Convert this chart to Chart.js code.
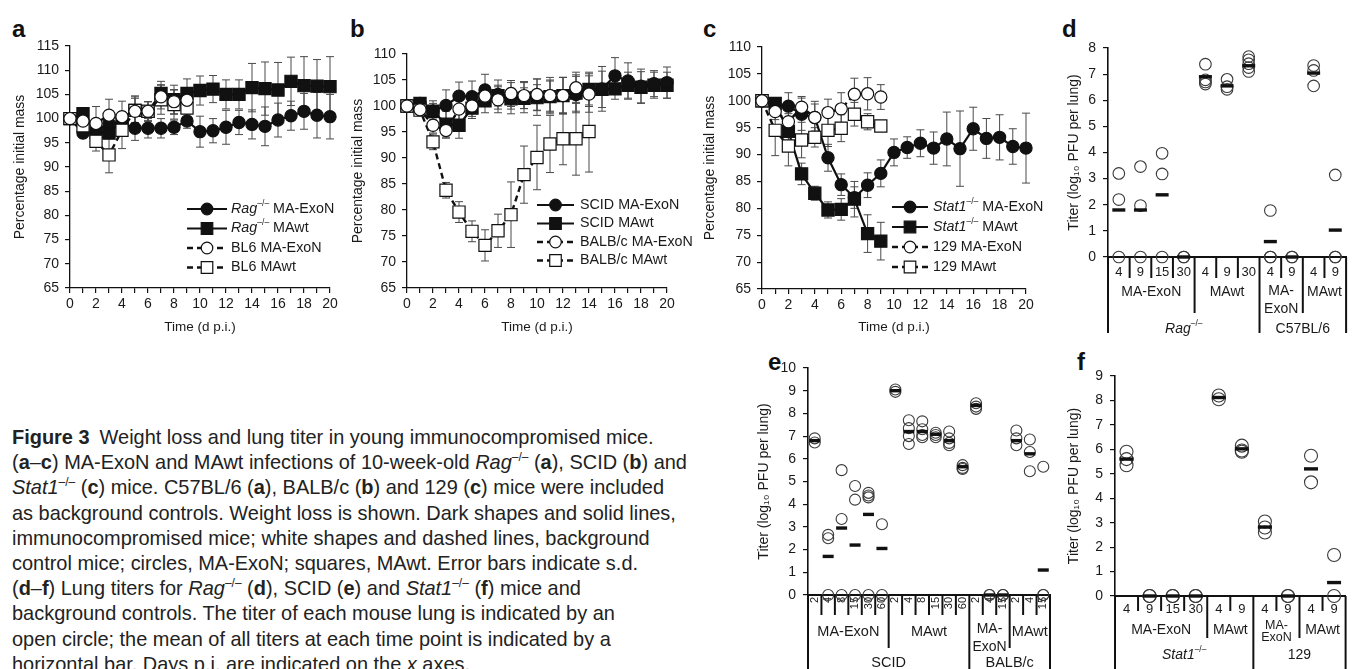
<!DOCTYPE html>
<html>
<head>
<meta charset="utf-8">
<script src="https://cdn.jsdelivr.net/npm/chart.js@4.4.1/dist/chart.umd.min.js"></script>
<style>
  body { margin: 0; width: 1356px; height: 669px; overflow: hidden; position: relative; background: #fff; }
  canvas { position: absolute; }
  .letter { position: absolute; font: bold 24px 'Liberation Sans', Arial, sans-serif; line-height: 24px; color: #111; }
  #cap { position: absolute; left: 12px; top: 424px; font: 21px 'Liberation Sans', Arial, sans-serif; line-height: 25.2px;
         color: #222; white-space: nowrap; transform: scaleX(0.95); transform-origin: 0 0; }
  #cap sup { font-size: 0.6em; line-height: 0; vertical-align: 0.6em; }
</style>
</head>
<body>
<div class="letter" style="left:12px;top:17px">a</div>
<div class="letter" style="left:350px;top:17px">b</div>
<div class="letter" style="left:703px;top:17px">c</div>
<div class="letter" style="left:1062px;top:17px">d</div>
<div class="letter" style="left:768px;top:350px">e</div>
<div class="letter" style="left:1077px;top:350px">f</div>

<canvas id="ca" width="345" height="340" style="left:0;top:0"></canvas>
<canvas id="cb" width="362" height="340" style="left:345px;top:0"></canvas>
<canvas id="cc" width="368" height="340" style="left:690px;top:0"></canvas>
<canvas id="cd" width="306" height="345" style="left:1050px;top:0"></canvas>
<canvas id="ce" width="310" height="324" style="left:750px;top:345px"></canvas>
<canvas id="cf" width="296" height="324" style="left:1060px;top:345px"></canvas>

<div id="cap">
<div><b>Figure 3</b>&ensp;Weight loss and lung titer in young immunocompromised mice.</div>
<div>(<b>a</b>–<b>c</b>) MA-ExoN and MAwt infections of 10-week-old <i>Rag</i><sup>–/–</sup> (<b>a</b>), SCID (<b>b</b>) and</div>
<div><i>Stat1</i><sup>–/–</sup> (<b>c</b>) mice. C57BL/6 (<b>a</b>), BALB/c (<b>b</b>) and 129 (<b>c</b>) mice were included</div>
<div>as background controls. Weight loss is shown. Dark shapes and solid lines,</div>
<div>immunocompromised mice; white shapes and dashed lines, background</div>
<div>control mice; circles, MA-ExoN; squares, MAwt. Error bars indicate s.d.</div>
<div>(<b>d</b>–<b>f</b>) Lung titers for <i>Rag</i><sup>–/–</sup> (<b>d</b>), SCID (<b>e</b>) and <i>Stat1</i><sup>–/–</sup> (<b>f</b>) mice and</div>
<div>background controls. The titer of each mouse lung is indicated by an</div>
<div>open circle; the mean of all titers at each time point is indicated by a</div>
<div>horizontal bar. Days p.i. are indicated on the <i>x</i> axes.</div>
</div>

<script>
// ---- weight curves (percentage initial mass), day 0..20 ----
const days = [0,1,2,3,4,5,6,7,8,9,10,11,12,13,14,15,16,17,18,19,20];

// a: Rag-/- and BL6
const aRagExoN   = [100,97.0,97.5,99.0,99.0,98.0,98.0,98.0,98.2,99.5,97.3,97.5,98.2,99.2,98.8,98.4,99.7,100.6,101.5,100.7,100.4];
const aRagExoNSd = [0,1.0,1.5,2.0,2.0,2.5,2.0,2.0,1.5,1.5,3.2,2.5,3.5,2.5,3.0,4.0,3.5,3.0,3.7,4.7,4.6];
const aRagWt     = [100,101.0,97.2,97.0,99.5,101.7,101.5,105.2,103.9,105.2,105.8,106.1,105.0,105.0,106.4,106.2,105.9,107.7,106.8,106.7,106.6];
const aRagWtSd   = [0,1.0,1.0,1.0,1.5,2.5,2.0,2.5,3.0,3.0,3.0,2.8,3.0,3.0,5.0,5.5,5.7,5.0,6.0,5.5,6.2];
const aBl6ExoN   = [100,99.5,99.0,100.7,100.4,101.5,101.5,104.5,103.5,103.8];
const aBl6ExoNSd = [0,1.0,3.5,3.3,3.2,3.0,2.0,2.5,2.5,2.5];
const aBl6Wt     = [100,98.5,95.3,92.5,97.6,101.7,101.5,103.9,102.9,102.2];
const aBl6WtSd   = [0,1.0,2.0,3.7,3.8,3.0,2.0,3.0,3.0,2.0];

// b: SCID and BALB/c
const bScidExoN   = [100,100.5,99.0,100.1,101.9,101.8,103.1,102.2,101.5,101.7,101.7,102.0,102.0,102.2,103.2,103.3,105.8,104.8,103.8,104.3,104.5];
const bScidExoNSd = [0,1,2,3,2.7,3,3,2.8,3,3,3.5,3.5,3.5,3.5,3.3,4.3,3.5,3.5,3.3,2.5,3];
const bScidWt     = [100,100.5,99.0,96.5,96.3,99.6,101.0,102.0,101.4,101.5,101.6,101.8,102.0,102.5,103.2,103.2,103.3,104.0,103.6,104.0,104.0];
const bScidWtSd   = [0,1,1.5,2.5,2.5,2,2.3,2,2,2,2.5,3,3.5,3.5,3,3.5,2,2.5,3,2.5,2.5];
const bBalbExoN   = [100,99.3,96.3,95.3,99.4,100.0,101.9,101.2,102.4,102.0,102.2,102.0,102.0,103.5,102.3];
const bBalbExoNSd = [0,1,1.5,1.5,2,2,2,2.5,2.5,2.5,3,3,3.5,3,3.5];
const bBalbWt     = [100,99.2,93.1,83.8,79.6,75.9,73.2,76.0,79.1,86.8,90.1,92.7,93.7,93.7,95.1];
const bBalbWtSd   = [0,1,1.5,1.5,2,2,3,3.2,6.3,5.5,6.2,5.5,5,7,7.8];

// c: Stat1-/- and 129
const cStatExoN   = [100,99.1,99.0,97.5,96.9,89.4,84.4,82.0,84.3,86.5,90.4,91.3,92.1,91.2,92.9,91.1,94.8,93.0,93.2,91.5,91.2];
const cStatExoNSd = [0,1,2.5,3,3,2.5,2,2,2.3,2.5,2.5,2,2.5,3,5,7,4,3.7,4.2,3.3,6.5];
const cStatWt     = [100,99.5,94.3,86.4,82.8,79.7,79.8,81.7,75.3,73.9];
const cStatWtSd   = [0,1,2,2,1.3,1.5,2,3.3,3.5,3.5];
const c129ExoN    = [100,98.0,96.1,98.8,96.9,97.8,98.5,101.2,101.3,100.7];
const c129ExoNSd  = [0,1.5,1.5,2,2.5,2.5,3,3,3,2.3];
const c129Wt      = [100,94.5,91.6,92.7,93.2,94.5,94.9,97.5,96.1,95.3];
const c129WtSd    = [0,4.7,3.7,3.3,1.8,3,2.5,2.2,1.5,1];

// ---- lung titers (log10 PFU per lung) ----
const dDays   = ['4','9','15','30','4','9','30','4','9','4','9'];
const dTiters = [[3.2,2.2,0],[3.46,1.97,0],[3.97,3.18,0],[0,0],[7.38,6.78,6.7,6.62],[6.8,6.52,6.42],
                 [7.67,7.55,7.4,7.25,7.1],[1.78,0,0],[0,0],[7.33,7.14,6.55],[3.14,0,0]];
const dMeans  = [1.8,1.8,2.38,0,6.9,6.55,7.32,0.59,0,7.04,1.03];
const dVirus  = ['MA-ExoN','MAwt','MA-\nExoN','MAwt'];
const dVirusN = [4,3,2,2];
const dStrain = [['Rag','–/–'],['C57BL/6']];
const dStrainN = [7,4];

const eDays   = ['2','4','8','15','30','60','2','4','8','15','30','60','2','4','15','2','4','15'];
const eTiters = [[6.9,6.72],[2.65,2.5,0],[5.5,3.35,0],[4.8,4.2,0],[4.5,4.38,4.3,0],[3.12,0],
                 [9.05,8.95],[7.7,7.35,7.0,6.65],[7.65,7.3,7.05,6.95],[7.15,7.05,6.95],[7.2,6.9,6.7,6.6],[5.72,5.6,5.55],
                 [8.45,8.3,8.2],[0,0],[0,0],[7.25,6.9,6.6],[6.85,6.3,5.45],[5.65,0,0]];
const eMeans  = [6.8,1.7,2.95,2.2,3.55,2.05,9.0,7.2,7.2,7.08,6.8,5.65,8.35,0,0,6.8,6.22,1.1];
const eVirus  = ['MA-ExoN','MAwt','MA-\nExoN','MAwt'];
const eVirusN = [6,6,3,3];
const eStrain = [['SCID'],['BALB/c']];
const eStrainN = [12,6];

const fDays   = ['4','9','15','30','4','9','4','9','4','9'];
const fTiters = [[5.9,5.6,5.35],[0,0],[0,0],[0,0],[8.2,8.05],[6.15,5.95,5.9],[3.05,2.8,2.6],[0,0],[5.74,4.65],[1.68,0]];
const fMeans  = [5.6,0,0,0,8.12,6.02,2.82,0,5.2,0.55];
const fVirus  = ['MA-ExoN','MAwt','MA-\nExoN','MAwt'];
const fVirusN = [4,2,2,2];
const fStrain = [['Stat1','–/–'],['129']];
const fStrainN = [6,4];

// ---------------------------------------------------------------
const FAMILY = "'Liberation Sans', Arial, Helvetica, sans-serif";
const INK = '#1a1a1a';
Chart.defaults.font.family = FAMILY;
Chart.defaults.font.size = 14;
Chart.defaults.color = INK;
Chart.defaults.animation = false;
Chart.defaults.events = [];
Chart.defaults.plugins.legend.display = false;
Chart.defaults.plugins.tooltip.enabled = false;

// gene name in italics with a superscript, everything else plain
function labelParts(spec, rest) {
  const parts = spec.length > 1 ? [{t: spec[0], it: true}, {t: spec[1], sup: true}] : [{t: spec[0]}];
  if (rest) parts.push({t: rest});
  return parts;
}

function richWidth(ctx, parts, size) {
  let w = 0;
  parts.forEach(p => {
    ctx.font = `${p.it ? 'italic ' : ''}${p.sup ? size * 0.6 : size}px ${FAMILY}`;
    w += ctx.measureText(p.t).width;
  });
  return w;
}

function drawRich(ctx, parts, x, y, size) {
  ctx.textAlign = 'left';
  parts.forEach(p => {
    ctx.font = `${p.it ? 'italic ' : ''}${p.sup ? size * 0.6 : size}px ${FAMILY}`;
    ctx.fillText(p.t, x, p.sup ? y - size * 0.38 : y);
    x += ctx.measureText(p.t).width;
  });
}

const errorBars = {
  id: 'errorBars',
  beforeDatasetsDraw(chart) {
    const {ctx, scales: {x, y}} = chart;
    ctx.save();
    ctx.strokeStyle = '#4a4a4a';
    ctx.lineWidth = 1;
    chart.data.datasets.forEach(ds => {
      if (!ds.sd) return;
      ds.data.forEach((p, i) => {
        const s = ds.sd[i];
        if (!s) return;
        const px = x.getPixelForValue(p.x);
        const lo = y.getPixelForValue(p.y - s);
        const hi = y.getPixelForValue(p.y + s);
        ctx.beginPath();
        ctx.moveTo(px, lo); ctx.lineTo(px, hi);
        ctx.moveTo(px - 4, lo); ctx.lineTo(px + 4, lo);
        ctx.moveTo(px - 4, hi); ctx.lineTo(px + 4, hi);
        ctx.stroke();
      });
    });
    ctx.restore();
  }
};

const seriesKey = {
  id: 'seriesKey',
  afterDatasetsDraw(chart, args, o) {
    if (!o.rows) return;
    const ctx = chart.ctx;
    ctx.save();
    o.rows.forEach((parts, k) => {
      const ds = chart.data.datasets[k];
      const y = o.y + k * o.gap;
      ctx.strokeStyle = '#111';
      ctx.lineWidth = ds.borderWidth;
      ctx.setLineDash(ds.borderDash);
      ctx.beginPath();
      ctx.moveTo(o.x, y); ctx.lineTo(o.x + o.w, y);
      ctx.stroke();
      ctx.setLineDash([]);
      ctx.fillStyle = ds.pointBackgroundColor;
      ctx.lineWidth = ds.pointBorderWidth;
      Chart.helpers.drawPoint(ctx, {pointStyle: ds.pointStyle, radius: ds.pointRadius * 0.95,
        borderWidth: ds.pointBorderWidth, rotation: 0}, o.x + o.w / 2, y);
      ctx.fillStyle = INK;
      ctx.textBaseline = 'middle';
      drawRich(ctx, parts, o.x + o.w + o.pad, y, o.size);
    });
    ctx.restore();
  }
};

const groupAxis = {
  id: 'groupAxis',
  afterDraw(chart, args, o) {
    if (!o.virus) return;
    const {ctx, scales: {x, y}} = chart;
    const base = y.getPixelForValue(0);
    const spans = (names, counts) => {
      let at = 0;
      return names.map((name, k) => { const g = {name, from: at, to: at + counts[k] - 1}; at += counts[k]; return g; });
    };
    const virus = spans(o.virus, o.virusN);
    const strain = spans(o.strain, o.strainN);
    const vEnd = virus.map(g => g.to), sEnd = strain.map(g => g.to);
    ctx.save();
    ctx.strokeStyle = '#111';
    ctx.lineWidth = o.lineWidth;
    for (let i = -1; i < o.virusN.reduce((a, b) => a + b, 0); i++) {
      let len = o.short;
      if (i < 0 || sEnd.includes(i)) len = o.long;
      else if (vEnd.includes(i)) len = o.mid;
      const px = x.getPixelForValue(i + 0.5);
      ctx.beginPath(); ctx.moveTo(px, base); ctx.lineTo(px, base + len); ctx.stroke();
    }
    ctx.fillStyle = INK;
    ctx.textBaseline = 'middle';
    ctx.textAlign = 'center';
    virus.forEach(g => {
      const cx = (x.getPixelForValue(g.from) + x.getPixelForValue(g.to)) / 2;
      const lines = g.name.split('\n');
      ctx.font = `${lines.length > 1 ? o.size2 : o.size}px ${FAMILY}`;
      ctx.textAlign = 'center';
      lines.forEach((t, k) => ctx.fillText(t, cx, base + (lines.length > 1 ? o.vy2[k] : o.vy)));
    });
    strain.forEach(g => {
      const cx = (x.getPixelForValue(g.from) + x.getPixelForValue(g.to)) / 2;
      const parts = labelParts(g.name);
      const w = richWidth(ctx, parts, o.size);
      drawRich(ctx, parts, cx - w / 2, base + o.sy, o.size);
    });
    ctx.restore();
  }
};

function weightSet(values, sd, filled, square) {
  return {
    data: values.map((v, i) => ({x: days[i], y: v})),
    sd,
    borderColor: '#111',
    borderWidth: filled ? 2.2 : 2.4,
    borderDash: filled ? [] : [6, 4],
    pointStyle: square ? 'rect' : 'circle',
    pointRadius: square ? 8.6 : 6.1,
    pointBackgroundColor: filled ? '#111' : '#fff',
    pointBorderColor: '#111',
    pointBorderWidth: 1.2,
    tension: 0,
    clip: false,
    order: filled ? 2 : 1
  };
}

function weightChart(id, g, yMax, sets, key) {
  return new Chart(document.getElementById(id), {
    type: 'line',
    data: {datasets: sets},
    options: {
      responsive: false,
      layout: {padding: {left: 0, top: g.top, right: g.right, bottom: 0}},
      scales: {
        x: {
          type: 'linear', min: 0, max: 20,
          ticks: {stepSize: 1, autoSkip: false, maxRotation: 0, padding: 3,
                  callback: v => (v % 2 === 0 ? String(v) : '')},
          grid: {drawOnChartArea: false, tickLength: 5, color: '#111', lineWidth: 1.2},
          border: {color: '#111', width: 1.3},
          title: {display: true, text: 'Time (d p.i.)', font: {size: 13.5}, padding: {top: 0, bottom: 5}},
          afterFit: s => { s.height = g.xh; }
        },
        y: {
          min: 65, max: yMax,
          ticks: {stepSize: 5, padding: 6},
          grid: {drawOnChartArea: false, tickLength: 5, color: '#111', lineWidth: 1.2},
          border: {color: '#111', width: 1.3},
          title: {display: true, text: 'Percentage initial mass', font: {size: 14}, padding: {top: g.tp, bottom: 0}},
          afterFit: s => { s.width = g.yw; }
        }
      },
      plugins: {seriesKey: key}
    },
    plugins: [errorBars, seriesKey]
  });
}

weightChart('ca', {top: 46, right: 15, xh: 52, yw: 70, tp: 12}, 115, [
  weightSet(aRagExoN, aRagExoNSd, true, false),
  weightSet(aRagWt, aRagWtSd, true, true),
  weightSet(aBl6ExoN, aBl6ExoNSd, false, false),
  weightSet(aBl6Wt, aBl6WtSd, false, true)
], {x: 187, w: 40, pad: 4, y: 209, gap: 19.5, size: 14.3, rows: [
  labelParts(['Rag', '–/–'], ' MA-ExoN'), labelParts(['Rag', '–/–'], ' MAwt'),
  labelParts(['BL6 MA-ExoN']), labelParts(['BL6 MAwt'])]});

weightChart('cb', {top: 54, right: 40, xh: 52, yw: 62, tp: 5}, 110, [
  weightSet(bScidExoN, bScidExoNSd, true, false),
  weightSet(bScidWt, bScidWtSd, true, true),
  weightSet(bBalbExoN, bBalbExoNSd, false, false),
  weightSet(bBalbWt, bBalbWtSd, false, true)
], {x: 192, w: 37, pad: 6, y: 205, gap: 18.5, size: 14.3, rows: [
  labelParts(['SCID MA-ExoN']), labelParts(['SCID MAwt']),
  labelParts(['BALB/c MA-ExoN']), labelParts(['BALB/c MAwt'])]});

weightChart('cc', {top: 47, right: 32, xh: 51, yw: 72, tp: 12}, 110, [
  weightSet(cStatExoN, cStatExoNSd, true, false),
  weightSet(cStatWt, cStatWtSd, true, true),
  weightSet(c129ExoN, c129ExoNSd, false, false),
  weightSet(c129Wt, c129WtSd, false, true)
], {x: 202, w: 36, pad: 5, y: 207, gap: 20, size: 14.3, rows: [
  labelParts(['Stat1', '–/–'], ' MA-ExoN'), labelParts(['Stat1', '–/–'], ' MAwt'),
  labelParts(['129 MA-ExoN']), labelParts(['129 MAwt'])]});

function titerChart(id, g, labels, titers, means, yMax, groups) {
  const pts = [];
  titers.forEach((list, i) => list.forEach(v => pts.push({x: i, y: v})));
  return new Chart(document.getElementById(id), {
    type: 'scatter',
    data: {datasets: [
      {data: means.map((m, i) => ({x: i, y: m})), pointStyle: 'line', pointRadius: g.bar,
       pointBorderColor: '#111', borderColor: '#111', pointBorderWidth: 3.4, clip: false, order: 0},
      {data: pts, pointStyle: 'circle', pointRadius: g.r, pointBackgroundColor: 'rgba(255,255,255,0)',
       backgroundColor: 'rgba(255,255,255,0)', pointBorderColor: '#3a3a3a', borderColor: '#3a3a3a',
       pointBorderWidth: 1.1, clip: false, order: 1}
    ]},
    options: {
      responsive: false,
      layout: {padding: {left: 0, top: g.top, right: g.right, bottom: 0}},
      scales: {
        x: {
          type: 'linear', min: -0.5, max: labels.length - 0.5,
          afterBuildTicks: s => { s.ticks = labels.map((_, i) => ({value: i})); },
          ticks: {autoSkip: false, padding: g.tpad, minRotation: g.rot, maxRotation: g.rot,
                  font: {size: g.tsize}, callback: v => labels[v]},
          grid: {display: false, drawTicks: false},
          border: {color: '#111', width: 2},
          afterFit: s => { s.height = g.xh; }
        },
        y: {
          min: 0, max: yMax,
          ticks: {stepSize: 1, padding: 7},
          grid: {drawOnChartArea: false, tickLength: 5, color: '#111', lineWidth: 1.2},
          border: {color: '#111', width: 1.6},
          title: {display: true, text: 'Titer (log₁₀ PFU per lung)', font: {size: 14}, padding: {top: g.tp, bottom: 0}},
          afterFit: s => { s.width = g.yw; }
        }
      },
      plugins: {groupAxis: groups}
    },
    plugins: [groupAxis]
  });
}

titerChart('cd', {top: 48, right: 1, xh: 88, yw: 58, tp: 16, r: 5.8, bar: 6.5, tpad: 8, rot: 0, tsize: 13},
  dDays, dTiters, dMeans, 8,
  {virus: dVirus, virusN: dVirusN, strain: dStrain, strainN: dStrainN, lineWidth: 2,
   short: 21, mid: 56, long: 76, vy: 35, vy2: [34, 52], sy: 72, size: 14, size2: 14});

titerChart('ce', {top: 23, right: 10, xh: 74, yw: 58, tp: 6, r: 5.5, bar: 5.5, tpad: 2, rot: 90, tsize: 11},
  eDays, eTiters, eMeans, 10,
  {virus: eVirus, virusN: eVirusN, strain: eStrain, strainN: eStrainN, lineWidth: 2,
   short: 20, mid: 53, long: 74, vy: 37, vy2: [34, 52], sy: 68, size: 14.5, size2: 14});

titerChart('cf', {top: 31, right: 1, xh: 73, yw: 55, tp: 6, r: 6.5, bar: 7, tpad: 6, rot: 0, tsize: 13},
  fDays, fTiters, fMeans, 9,
  {virus: fVirus, virusN: fVirusN, strain: fStrain, strainN: fStrainN, lineWidth: 2,
   short: 15, mid: 42, long: 73, vy: 34, vy2: [30, 42], sy: 59, size: 14, size2: 12.5});
</script>
</body>
</html>
